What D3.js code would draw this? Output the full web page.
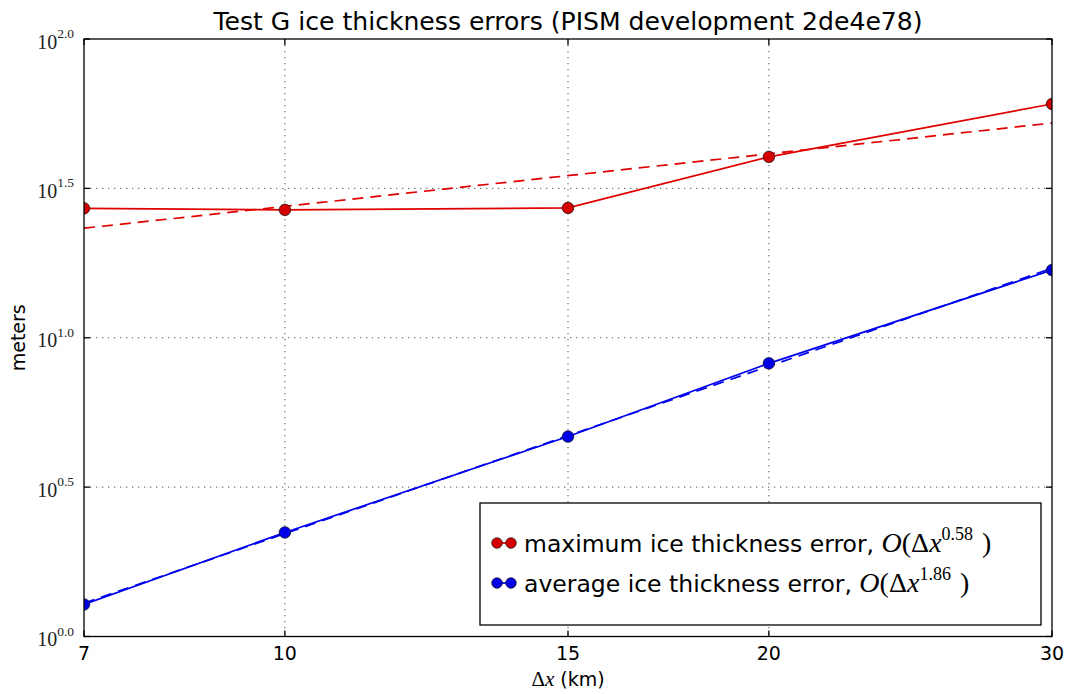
<!DOCTYPE html>
<html>
<head>
<meta charset="utf-8">
<script src="https://cdn.jsdelivr.net/npm/d3@7"></script>
<style>
  html, body { margin: 0; padding: 0; background: #fff; }
  svg { display: block; }
</style>
</head>
<body>
<svg id="chart" width="1071" height="694"></svg>
<script>
// Grid spacing (km) of the refinement runs
const dxKm = [7.5, 10, 15, 20, 30];
// Maximum and average ice thickness errors (meters)
const maxError = [27.1, 26.8, 27.2, 40.3, 60.6];
const avgError = [1.28, 2.23, 4.67, 8.21, 16.85];

// Axis ticks
const xTicks = [7.5, 10, 15, 20, 30];
const xTickLabels = ["7", "10", "15", "20", "30"];
const yTickExponents = ["0.0", "0.5", "1.0", "1.5", "2.0"];

const seriesNames = ["maximum ice thickness error, ", "average ice thickness error, "];
const seriesColors = ["#e00000", "#0000ee"];
const markerColors = ["#d40000", "#0000e6"];

const svg = d3.select("#chart");
const W = 1071, H = 694;
const plot = { left: 84, right: 1052, top: 39, bottom: 636.5 };

svg.append("rect").attr("width", W).attr("height", H).attr("fill", "#fff");

const x = d3.scaleLog().domain([7.5, 30]).range([plot.left, plot.right]);
const y = d3.scaleLog().domain([1, 100]).range([plot.bottom, plot.top]);

const mathFont = "'Liberation Serif', 'DejaVu Serif', serif";
const sansFont = "'DejaVu Sans', sans-serif";

// Least-squares fit of log(error) against log(dx)
function powerFit(xs, ys) {
  const lx = xs.map(Math.log10), ly = ys.map(Math.log10);
  const mx = d3.mean(lx), my = d3.mean(ly);
  const sxy = d3.sum(lx, (v, i) => (v - mx) * (ly[i] - my));
  const sxx = d3.sum(lx, v => (v - mx) * (v - mx));
  const slope = sxy / sxx;
  const intercept = my - slope * mx;
  return { slope, intercept, at: v => Math.pow(10, intercept + slope * Math.log10(v)) };
}

const series = [maxError, avgError].map((vals, i) => ({
  values: vals,
  fit: powerFit(dxKm, vals),
  color: seriesColors[i],
  marker: markerColors[i],
  name: seriesNames[i]
}));

svg.append("defs").append("clipPath").attr("id", "plotClip")
  .append("rect")
  .attr("x", plot.left).attr("y", plot.top)
  .attr("width", plot.right - plot.left).attr("height", plot.bottom - plot.top);

// Grid
const grid = svg.append("g");
const yTickVals = yTickExponents.map(e => Math.pow(10, +e));
grid.selectAll("line.gx").data(xTicks.slice(1, -1)).join("line")
  .attr("x1", d => x(d)).attr("x2", d => x(d))
  .attr("y1", plot.top).attr("y2", plot.bottom)
  .attr("stroke", "#555").attr("stroke-width", 1).attr("stroke-dasharray", "1.3,4.7");
grid.selectAll("line.gy").data(yTickVals.slice(1, -1)).join("line")
  .attr("y1", d => y(d)).attr("y2", d => y(d))
  .attr("x1", plot.left).attr("x2", plot.right)
  .attr("stroke", "#555").attr("stroke-width", 1).attr("stroke-dasharray", "1.3,4.7");

// Data, fits and markers
const marks = svg.append("g").attr("clip-path", "url(#plotClip)");
const line = d3.line().x(d => x(d[0])).y(d => y(d[1]));

series.forEach(s => {
  const fitPts = [x.domain()[0], x.domain()[1]].map(v => [v, s.fit.at(v)]);
  marks.append("path").attr("d", line(fitPts))
    .attr("fill", "none").attr("stroke", s.color)
    .attr("stroke-width", 1.7).attr("stroke-dasharray", "11,7");
  marks.append("path").attr("d", line(dxKm.map((v, i) => [v, s.values[i]])))
    .attr("fill", "none").attr("stroke", s.color).attr("stroke-width", 1.7);
  marks.selectAll(null).data(dxKm.map((v, i) => [v, s.values[i]])).join("circle")
    .attr("cx", d => x(d[0])).attr("cy", d => y(d[1])).attr("r", 5.8)
    .attr("fill", s.marker).attr("stroke", "#111").attr("stroke-width", 0.7);
});

// Axes frame and inward ticks on all sides
const axes = svg.append("g").attr("stroke", "#000").attr("stroke-width", 1.3);
const tickLen = 6;
xTicks.forEach(v => {
  axes.append("line").attr("x1", x(v)).attr("x2", x(v))
    .attr("y1", plot.bottom).attr("y2", plot.bottom - tickLen);
  axes.append("line").attr("x1", x(v)).attr("x2", x(v))
    .attr("y1", plot.top).attr("y2", plot.top + tickLen);
});
yTickVals.forEach(v => {
  axes.append("line").attr("y1", y(v)).attr("y2", y(v))
    .attr("x1", plot.left).attr("x2", plot.left + tickLen);
  axes.append("line").attr("y1", y(v)).attr("y2", y(v))
    .attr("x1", plot.right).attr("x2", plot.right - tickLen);
});
axes.append("rect")
  .attr("x", plot.left).attr("y", plot.top)
  .attr("width", plot.right - plot.left).attr("height", plot.bottom - plot.top)
  .attr("fill", "none");

// X tick labels
svg.append("g").selectAll("text").data(xTicks).join("text")
  .attr("x", d => x(d)).attr("y", plot.bottom + 23.5)
  .attr("text-anchor", "middle")
  .attr("font-family", sansFont).attr("font-size", 19).attr("fill", "#000")
  .text((d, i) => xTickLabels[i]);

// Y tick labels: 10^{exponent}
const yLab = svg.append("g").selectAll("text").data(yTickExponents).join("text")
  .attr("x", plot.left - 10).attr("y", d => y(Math.pow(10, +d)) + 9.5)
  .attr("text-anchor", "end")
  .attr("font-family", mathFont).attr("font-size", 20).attr("fill", "#222");
yLab.append("tspan").text("10");
yLab.append("tspan").attr("dy", -10.5).attr("font-size", 13.5).text(d => d);

// Title
svg.append("text")
  .attr("x", (plot.left + plot.right) / 2).attr("y", 29.5)
  .attr("text-anchor", "middle")
  .attr("font-family", sansFont).attr("font-size", 25.1).attr("fill", "#000")
  .text("Test G ice thickness errors (PISM development 2de4e78)");

// Axis labels
svg.append("text")
  .attr("transform", `translate(25, ${(plot.top + plot.bottom) / 2}) rotate(-90)`)
  .attr("text-anchor", "middle")
  .attr("font-family", sansFont).attr("font-size", 19).attr("fill", "#000")
  .text("meters");

const xl = svg.append("text")
  .attr("x", (plot.left + plot.right) / 2).attr("y", 686)
  .attr("text-anchor", "middle")
  .attr("font-size", 19).attr("fill", "#000");
xl.append("tspan").attr("font-family", mathFont).attr("font-size", 21).text("Δ");
xl.append("tspan").attr("font-family", mathFont).attr("font-size", 21).attr("font-style", "italic").text("x");
xl.append("tspan").attr("font-family", sansFont).text(" (km)");

// Legend
const lg = svg.append("g");
const box = { x: 480, y: 503, w: 561, h: 122 };
lg.append("rect").attr("x", box.x).attr("y", box.y).attr("width", box.w).attr("height", box.h)
  .attr("fill", "#fff").attr("stroke", "#000").attr("stroke-width", 1.3);

const fmt = d3.format(".2f");
series.forEach((s, i) => {
  const cy = box.y + 40 + i * 40;
  lg.append("line").attr("x1", 497).attr("x2", 511).attr("y1", cy).attr("y2", cy)
    .attr("stroke", s.color).attr("stroke-width", 1.7);
  [497, 511].forEach(cx => lg.append("circle").attr("cx", cx).attr("cy", cy).attr("r", 5.3)
    .attr("fill", s.marker).attr("stroke", "#111").attr("stroke-width", 0.7));
  const t = lg.append("text").attr("x", 524).attr("y", cy + 8.5)
    .attr("font-size", 23.5).attr("fill", "#000");
  t.append("tspan").attr("font-family", sansFont).text(s.name);
  t.append("tspan").attr("font-family", mathFont).attr("font-size", 28).attr("font-style", "italic").text("O");
  t.append("tspan").attr("font-family", mathFont).attr("font-size", 28).text("(Δ");
  t.append("tspan").attr("font-family", mathFont).attr("font-size", 28).attr("font-style", "italic").text("x");
  t.append("tspan").attr("font-family", mathFont).attr("font-size", 18).attr("dy", -12)
    .text(fmt(s.fit.slope));
  t.append("tspan").attr("font-family", mathFont).attr("font-size", 28).attr("dy", 12).attr("dx", 9).text(")");
});
</script>
</body>
</html>
